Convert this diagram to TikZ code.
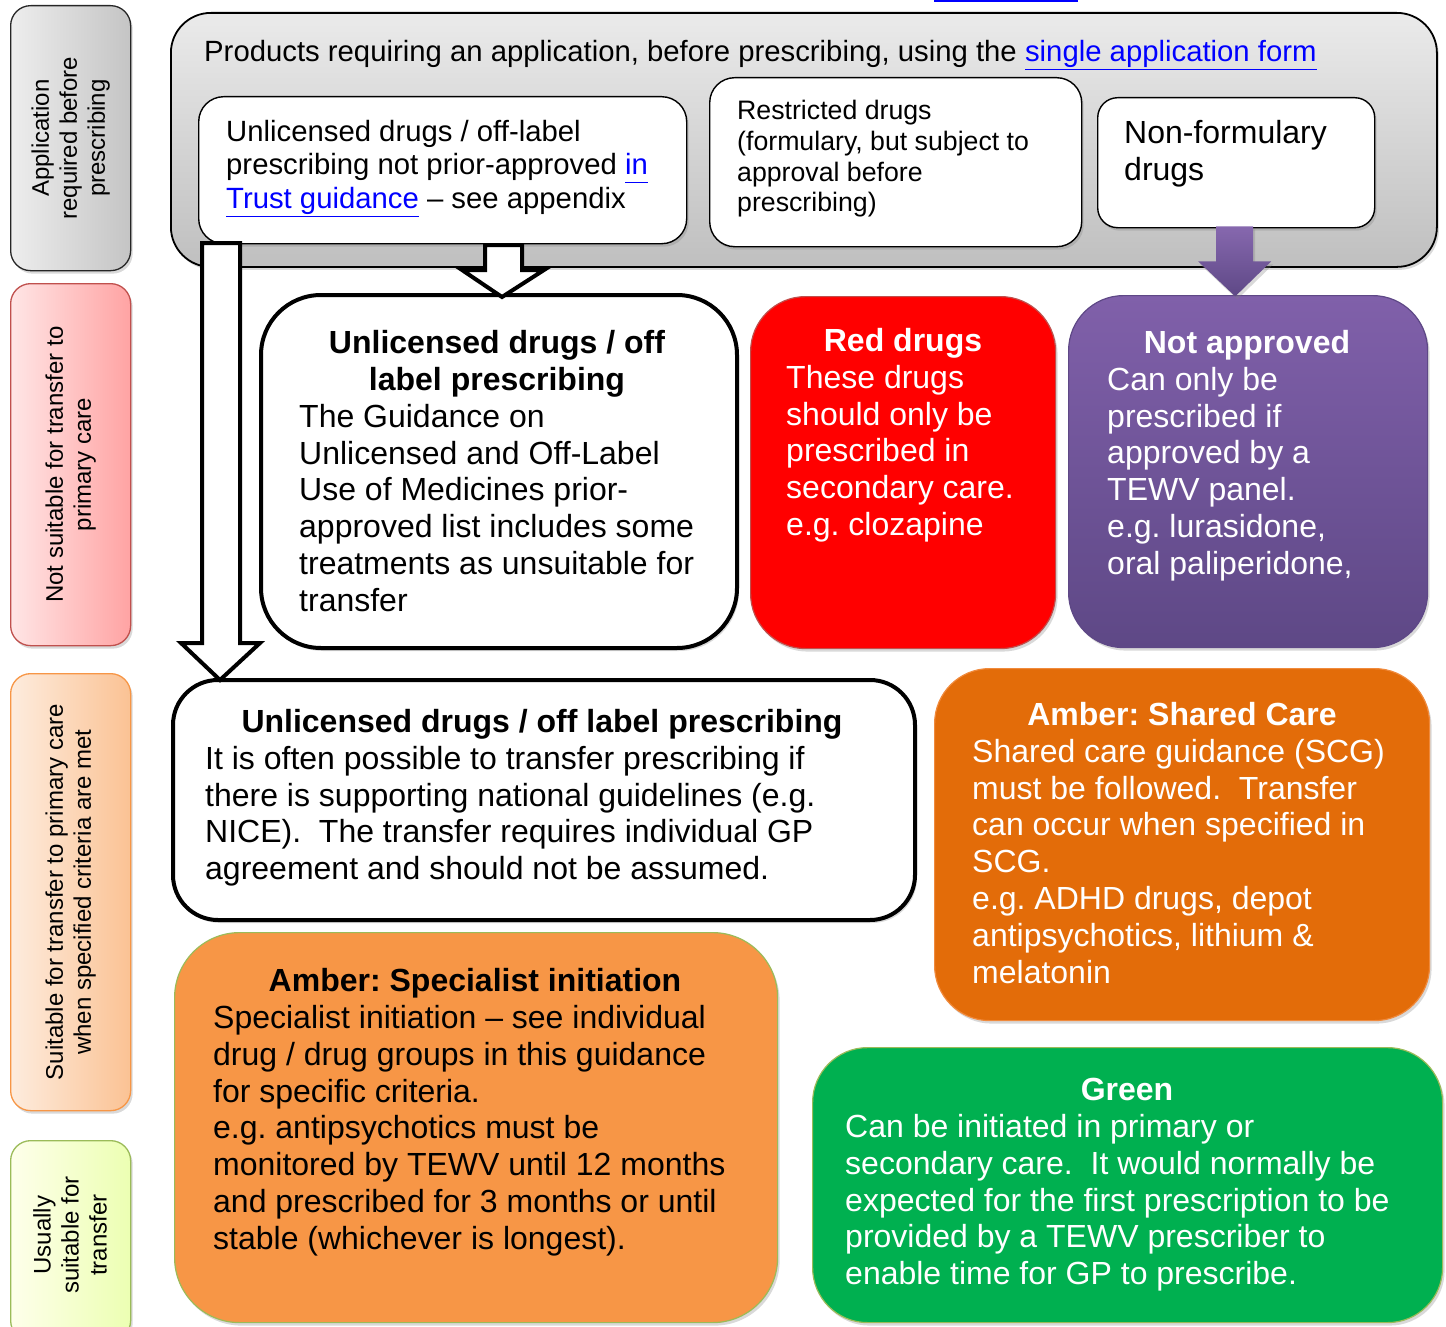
\documentclass[tikz,border=0pt]{standalone}
\usepackage{fontspec}
\setmainfont{Liberation Sans}
\usetikzlibrary{shadows,calc}
\definecolor{linkblue}{HTML}{0000FF}
\definecolor{redfill}{HTML}{FF0000}
\definecolor{redline}{HTML}{C0504D}
\definecolor{purptop}{HTML}{8060AA}
\definecolor{purpbot}{HTML}{5E4886}
\definecolor{ambdark}{HTML}{E36C09}
\definecolor{ambdarkline}{HTML}{F08A3C}
\definecolor{amblight}{HTML}{F79646}
\definecolor{olive}{HTML}{9BBB59}
\definecolor{greenfill}{HTML}{00B050}
\newcommand\fsA{\fontsize{29.3}{33.5}\selectfont}
\newcommand\fsB{\fontsize{32}{36.8}\selectfont}
\newcommand\fsC{\fontsize{26.7}{30.8}\selectfont}
\newcommand\fsS{\fontsize{24}{28}\selectfont}
\newcommand\mylink[1]{\textcolor{linkblue}{\underline{\vphantom{g}#1}}}
\frenchspacing
\tikzset{
  shad/.style={drop shadow={opacity=0.3, shadow xshift=2pt, shadow yshift=-3pt}},
  boxbase/.style={anchor=north west, inner sep=0pt, shad},
  sidebox/.style={boxbase, draw, line width=1.3pt, rounded corners=20pt},
  whitebox/.style={boxbase, draw, fill=white, line width=1.4pt, rounded corners=25pt},
  thickbox/.style={boxbase, draw, fill=white, line width=4pt},
  colbox/.style={boxbase, line width=1.2pt, rounded corners=55pt},
  txt/.style={anchor=north west, align=left, inner sep=0pt},
  ttl/.style={anchor=north, align=center, inner sep=0pt, font=\fsB\bfseries},
  sidetxt/.style={rotate=90, align=center, inner sep=0pt, font=\fsS},
  blockarrow/.style={draw, fill=white, line width=4pt, line join=miter},
}
\begin{document}
\begin{tikzpicture}[x=1pt,y=-1pt]
\useasboundingbox (0,0) rectangle (1446,1327);

% cut-off link underline at the very top
\coordinate (cutL) at (934,1);
\coordinate (cutR) at (1078,1);
\draw[linkblue, line width=2pt] (cutL) -- (cutR);

% ---------- side labels ----------
\node[sidebox, draw=black!85, shading=axis, left color=black!7, right color=black!23,
      minimum width=120, minimum height=265] (s1) at (10,5) {};
\node[sidetxt] (s1t) at (s1.center) {Application\\required before\\prescribing};

\node[sidebox, draw=redline, shading=axis, left color=red!10, right color=red!36!white,
      minimum width=120, minimum height=362] (s2) at (10,283) {};
\node[sidetxt] (s2t) at (s2.center) {Not suitable for transfer to\\primary care};

\node[sidebox, draw=amblight, shading=axis, left color=amblight!18, right color=amblight!58,
      minimum width=120, minimum height=437] (s3) at (10,673) {};
\node[sidetxt] (s3t) at (s3.center) {Suitable for transfer to primary care\\when specified criteria are met};

\node[sidebox, draw=olive, shading=axis, left color=green!4!yellow!8!white, right color=green!25!yellow!30!white,
      minimum width=120, minimum height=200] (s4) at (10,1140) {};
\node[sidetxt] (s4t) at (70,1235) {Usually\\suitable for\\transfer};

% ---------- top container ----------
\node[boxbase, draw, line width=1.8pt, rounded corners=40pt, shading=axis,
      top color=black!8, bottom color=black!25,
      minimum width=1266, minimum height=254] (G) at (170,12) {};
\node[txt, font=\fsA] (Gt) at (204,40) {Products requiring an application, before prescribing, using the \mylink{single application form}};

\node[whitebox, minimum width=488, minimum height=147] (A) at (198,96) {};
\node[txt, font=\fsA] (At) at (226,120) {Unlicensed drugs / off-label\\prescribing not prior-approved \mylink{in}\\\mylink{Trust guidance} – see appendix};

\node[whitebox, minimum width=372, minimum height=169] (B) at (709,77) {};
\node[txt, font=\fsC] (Bt) at (737,100) {Restricted drugs\\(formulary, but subject to\\approval before\\prescribing)};

\node[whitebox, rounded corners=20pt, minimum width=277, minimum height=130] (C) at (1097,97) {};
\node[txt, font=\fsB] (Ct) at (1124,120) {Non-formulary\\drugs};

% ---------- second row ----------
\node[thickbox, rounded corners=60pt, minimum width=476, minimum height=353] (D) at (259,293) {};
\node[ttl] (Dh) at (497,330) {Unlicensed drugs / off\\label prescribing};
\node[txt, font=\fsB] (Dt) at (299,404) {The Guidance on\\Unlicensed and Off-Label\\Use of Medicines prior-\\approved list includes some\\treatments as unsuitable for\\transfer};

\node[colbox, fill=redfill, draw=redline, minimum width=305, minimum height=352] (R) at (750,296) {};
\node[ttl, text=white] (Rh) at (903,328) {Red drugs};
\node[txt, font=\fsB, text=white] (Rt) at (786,365) {These drugs\\should only be\\prescribed in\\secondary care.\\e.g. clozapine};

\node[colbox, draw=purpbot, shading=axis, top color=purptop, bottom color=purpbot,
      minimum width=359, minimum height=352] (P) at (1068,295) {};
\node[ttl, text=white] (Ph) at (1247,330) {Not approved};
\node[txt, font=\fsB, text=white] (Pt) at (1107,367) {Can only be\\prescribed if\\approved by a\\TEWV panel.\\e.g. lurasidone,\\oral paliperidone,};

% ---------- third row ----------
\node[thickbox, rounded corners=45pt, minimum width=742, minimum height=240] (E) at (171,678) {};
\node[ttl] (Eh) at (542,709) {Unlicensed drugs / off label prescribing};
\node[txt, font=\fsB] (Et) at (205,746) {It is often possible to transfer prescribing if\\there is supporting national guidelines (e.g.\\NICE).\ \ The transfer requires individual GP\\agreement and should not be assumed.};

\node[colbox, fill=ambdark, draw=ambdarkline, minimum width=495, minimum height=352] (S) at (934,668) {};
\node[ttl, text=white] (Sh) at (1182,702) {Amber: Shared Care};
\node[txt, font=\fsB, text=white] (St) at (972,739) {Shared care guidance (SCG)\\must be followed.\ \ Transfer\\can occur when specified in\\SCG.\\e.g. ADHD drugs, depot\\antipsychotics, lithium \&\\melatonin};

% ---------- bottom row ----------
\node[colbox, rounded corners=65pt, fill=amblight, draw=olive, minimum width=603, minimum height=390] (I) at (174,932) {};
\node[ttl] (Ih) at (475,968) {Amber: Specialist initiation};
\node[txt, font=\fsB] (It) at (213,1005) {Specialist initiation – see individual\\drug / drug groups in this guidance\\for specific criteria.\\e.g. antipsychotics must be\\monitored by TEWV until 12 months\\and prescribed for 3 months or until\\stable (whichever is longest).};

\node[colbox, fill=greenfill, draw=olive, minimum width=630, minimum height=275] (Gr) at (812,1047) {};
\node[ttl, text=white] (Grh) at (1127,1078) {Green};
\node[txt, font=\fsB, text=white] (Grt) at (845,1114) {Can be initiated in primary or\\secondary care.\ \ It would normally be\\expected for the first prescription to be\\provided by a TEWV prescriber to\\enable time for GP to prescribe.};

% ---------- block arrows ----------
\coordinate (t1) at ($(D.north)+(3,4)$);
\draw[blockarrow] ($(t1)+(-17,-52)$) -- ($(t1)+(20,-52)$) -- ($(t1)+(20,-27)$) -- ($(t1)+(42,-27)$)
  -- (t1) -- ($(t1)+(-40,-27)$) -- ($(t1)+(-17,-27)$) -- cycle;

\coordinate (t2) at ($(E.north west)+(49,2)$);
\draw[blockarrow] ($(t2)+(-18,-437)$) -- ($(t2)+(20,-437)$) -- ($(t2)+(20,-37)$) -- ($(t2)+(40,-37)$)
  -- (t2) -- ($(t2)+(-39,-37)$) -- ($(t2)+(-18,-37)$) -- cycle;

\coordinate (t3) at ($(C.south)+(-1,68)$);
\path[shading=axis, top color=purptop!95, bottom color=purpbot, shad]
  ($(t3)+(-19,-70)$) -- ($(t3)+(18,-70)$) -- ($(t3)+(18,-35)$) -- ($(t3)+(36,-35)$)
  -- (t3) -- ($(t3)+(-37,-35)$) -- ($(t3)+(-19,-35)$) -- cycle;
\end{tikzpicture}
\end{document}
